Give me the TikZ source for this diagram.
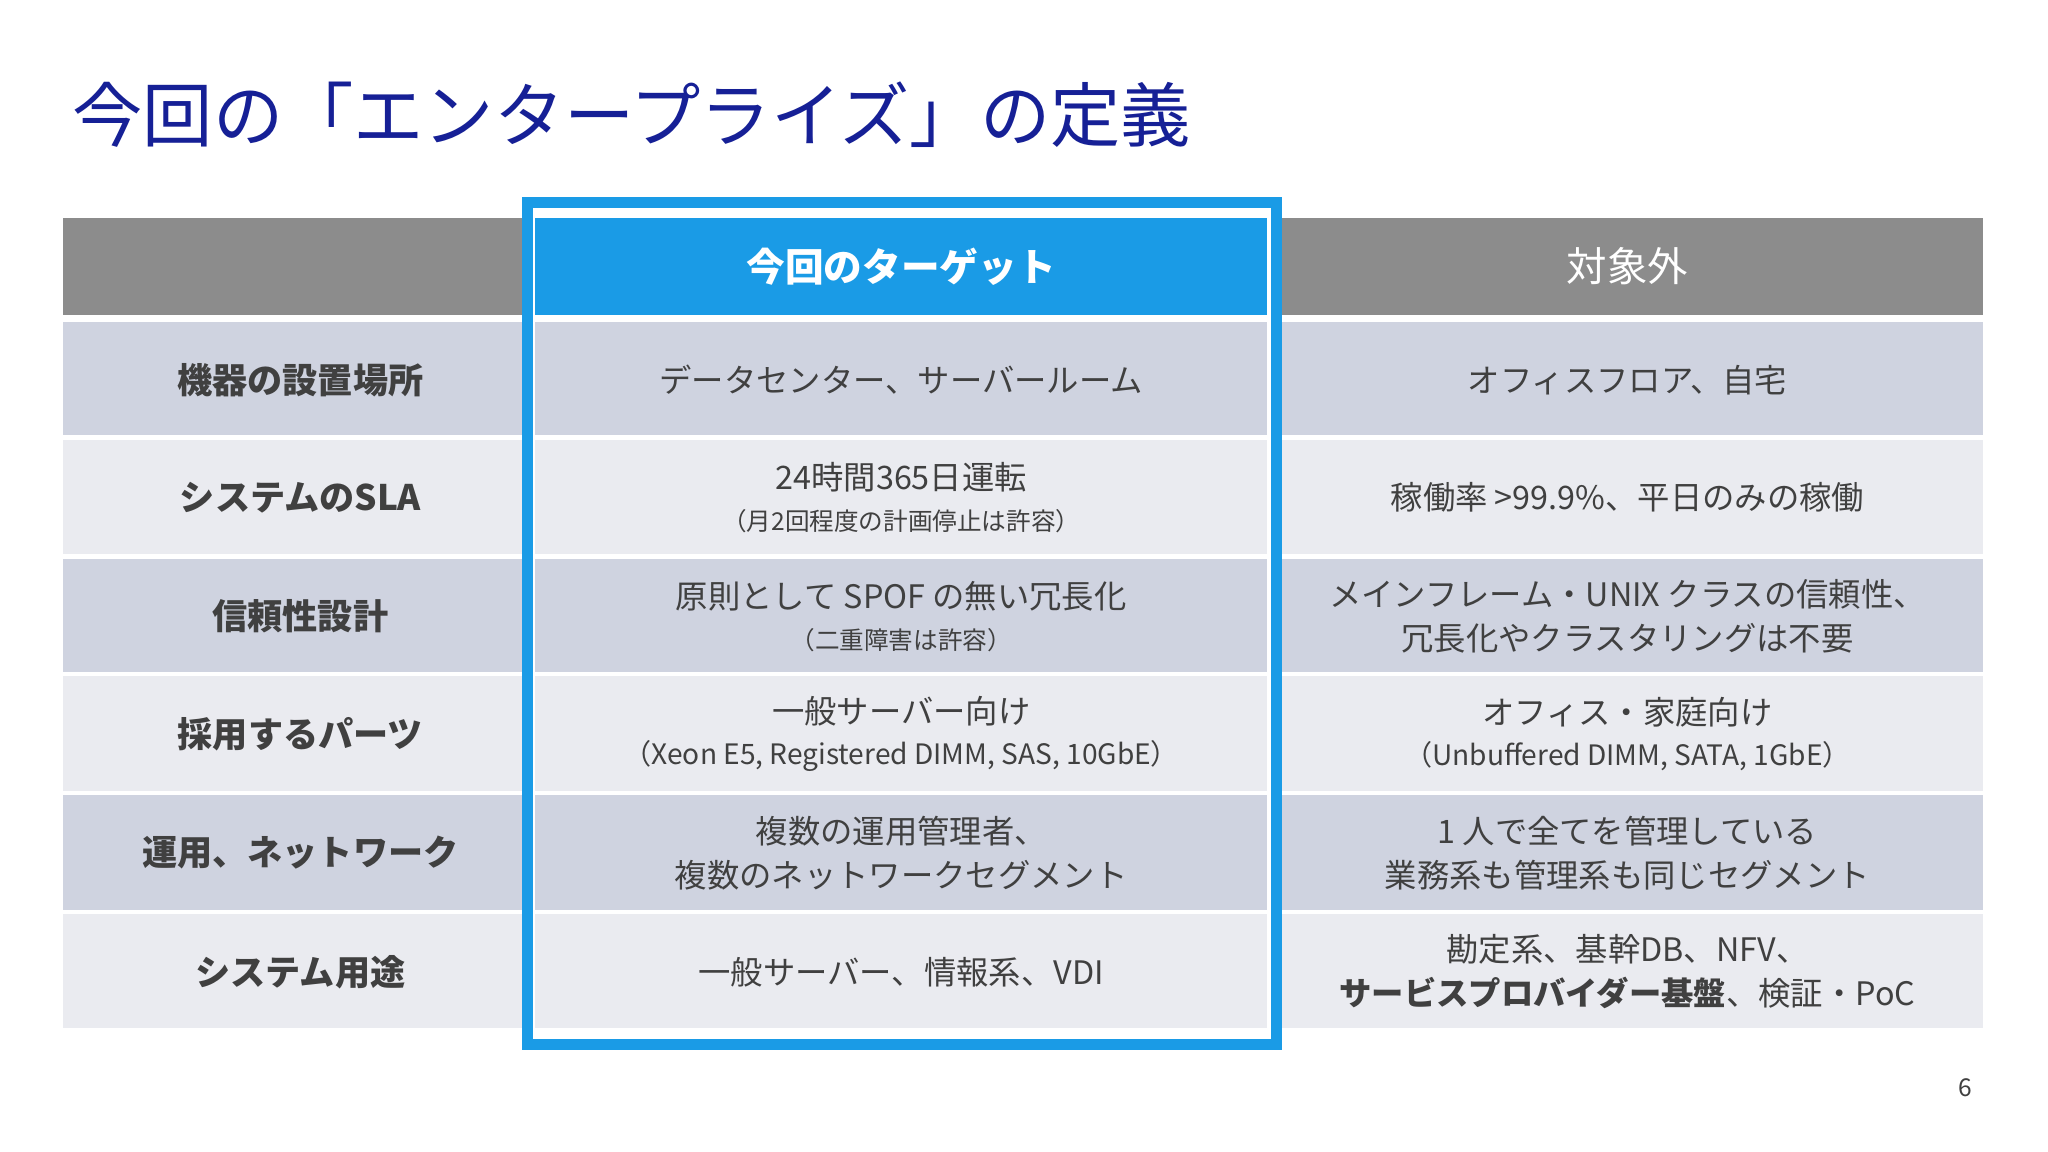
\documentclass[tikz,border=0pt]{standalone}
\usepackage{fontspec}
\setmainfont{Noto Sans CJK JP}
\definecolor{titleblue}{RGB}{22,32,150}
\definecolor{tblue}{RGB}{26,155,230}
\definecolor{hgray}{RGB}{140,140,140}
\definecolor{rowA}{RGB}{207,211,224}
\definecolor{rowB}{RGB}{234,235,240}
\definecolor{txt}{RGB}{64,64,64}
\tikzset{cell/.style={draw=white,line width=1.2pt},
 ctext/.style={text=txt,font=\fontsize{9.2}{12.5}\selectfont,align=center}}
\newcommand{\subt}[1]{\\[-1pt]{\fontsize{7}{9}\selectfont #1}}
\begin{document}
\begin{tikzpicture}[x=0.01306cm,y=-0.01306cm]
\useasboundingbox (0,0) rectangle (1568,882);
\fill[white] (0,0) rectangle (1568,882);
\node[anchor=west,text=titleblue,font=\fontsize{20}{24}\selectfont,inner sep=0pt] (title) at (55,88) {今回の「エンタープライズ」の定義};
% header
\fill[cell,fill=hgray] (47,165) rectangle (408,243);
\fill[cell,fill=tblue] (408,165) rectangle (972,243);
\fill[cell,fill=hgray] (972,165) rectangle (1520,243);
\node[text=white,font=\bfseries\fontsize{11}{14}\selectfont] (h2) at (690,204) {今回のターゲット};
\node[text=white,font=\fontsize{11.5}{14}\selectfont] (h3) at (1246,204) {対象外};
% rows
\foreach \t/\b/\c in {245/335/rowA,335/426/rowB,426/516/rowA,516/607/rowB,607/698/rowA,698/789/rowB}{
 \fill[cell,fill=\c] (47,\t) rectangle (408,\b);
 \fill[cell,fill=\c] (408,\t) rectangle (972,\b);
 \fill[cell,fill=\c] (972,\t) rectangle (1520,\b);
}
\tikzset{lab/.style={text=txt,font=\bfseries\fontsize{10}{13}\selectfont}}
\node[lab] (l1) at (230,291) {機器の設置場所};
\node[lab] (l2) at (230,381) {システムのSLA};
\node[lab] (l3) at (230,472) {信頼性設計};
\node[lab] (l4) at (230,562) {採用するパーツ};
\node[lab] (l5) at (230,653) {運用、ネットワーク};
\node[lab] (l6) at (230,744) {システム用途};
\node[ctext] (a1) at (690,291) {データセンター、サーバールーム};
\node[ctext] (a2) at (690,381) {24時間365日運転\subt{（月2回程度の計画停止は許容）}};
\node[ctext] (a3) at (690,472) {原則として SPOF の無い冗長化\subt{（二重障害は許容）}};
\node[ctext] (a4) at (690,562) {一般サーバー向け\\[-1pt]{\fontsize{8}{10}\selectfont（Xeon E5,  Registered DIMM,  SAS,  10GbE）}};
\node[ctext] (a5) at (690,653) {複数の運用管理者、\\複数のネットワークセグメント};
\node[ctext] (a6) at (690,744) {一般サーバー、情報系、VDI};
\node[ctext] (b1) at (1246,291) {オフィスフロア、自宅};
\node[ctext] (b2) at (1246,381) {稼働率 >99.9\%、平日のみの稼働};
\node[ctext] (b3) at (1246,472) {メインフレーム・UNIX クラスの信頼性、\\冗長化やクラスタリングは不要};
\node[ctext] (b4) at (1246,562) {オフィス・家庭向け\\[-1pt]{\fontsize{8}{10}\selectfont（Unbuffered DIMM, SATA, 1GbE）}};
\node[ctext] (b5) at (1246,653) {1 人で全てを管理している\\業務系も管理系も同じセグメント};
\node[ctext] (b6) at (1246,744) {勘定系、基幹DB、NFV、\\\textbf{サービスプロバイダー基盤}、検証・PoC};
% blue frame
\draw[tblue,line width=1.1mm] (404,155) rectangle (977,800);
\node[text=txt,font=\fontsize{7}{8}\selectfont] (pg) at (1505,833) {6};
\end{tikzpicture}
\end{document}
